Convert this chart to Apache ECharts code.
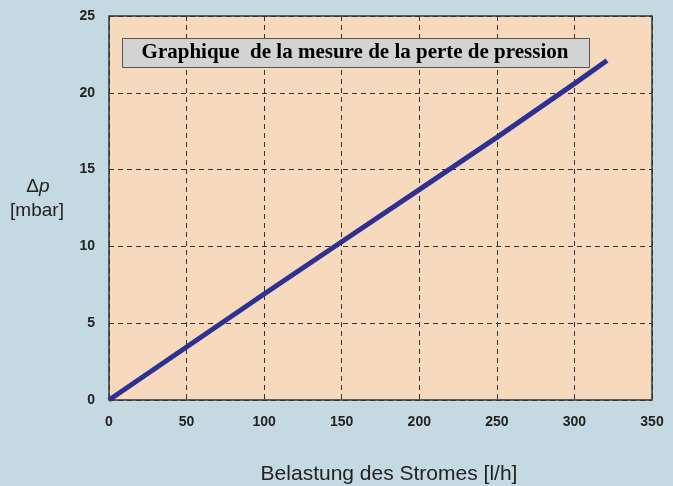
<!DOCTYPE html>
<html>
<head>
<meta charset="utf-8">
<script src="https://cdn.jsdelivr.net/npm/echarts@6/dist/echarts.min.js"></script>
<style>
html, body { margin: 0; padding: 0; background: #c5d9e2; }
</style>
</head>
<body>
<div id="main" style="width: 673px;height:486px;"></div>
<script type="text/javascript">
// Durchfluss [l/h] und Druckverlust [mbar]
var flow = [0, 50, 100, 150, 200, 250, 300, 321];
var dp = [0, 3.45, 6.9, 10.3, 13.7, 17.1, 20.6, 22.1];
var xTicks = [0, 50, 100, 150, 200, 250, 300, 350];
var yTicks = [0, 5, 10, 15, 20, 25];

var chartTitle = 'Graphique  de la mesure de la perte de pression';
var xName = 'Belastung des Stromes [l/h]';

var points = flow.map(function (f, i) { return [f, dp[i]]; });

var myChart = echarts.init(document.getElementById('main'));

var option = {
	backgroundColor: '#c5d9e2',
	animation: false,
	grid: {
		left: 109, right: 21, top: 16, bottom: 86,
		show: true,
		backgroundColor: '#f7dabd',
		borderColor: '#333',
		borderWidth: 1.5
	},
	xAxis: {
		type: 'value',
		min: xTicks[0],
		max: xTicks[xTicks.length - 1],
		interval: 50,
		axisLine: { show: false },
		axisTick: { show: false },
		axisLabel: { color: '#222', fontWeight: 'bold', fontSize: 14, margin: 15, fontFamily: 'Liberation Sans' },
		splitLine: { lineStyle: { color: '#333', type: [5, 4], width: 1 } }
	},
	yAxis: {
		type: 'value',
		min: yTicks[0],
		max: yTicks[yTicks.length - 1],
		interval: 5,
		axisLine: { show: false },
		axisTick: { show: false },
		axisLabel: { color: '#222', fontWeight: 'bold', fontSize: 14, margin: 14, fontFamily: 'Liberation Sans' },
		splitLine: { lineStyle: { color: '#333', type: [5, 4], width: 1 } }
	},
	graphic: [
		{
			type: 'rect',
			left: 122, top: 38,
			shape: { width: 467, height: 29 },
			style: { fill: '#d3d3d3', stroke: '#555', lineWidth: 1 },
			z: 10
		},
		{
			type: 'text',
			x: 355, y: 53,
			style: { text: chartTitle, align: 'center', verticalAlign: 'middle', fill: '#000', font: 'bold 21px "Liberation Serif"' },
			z: 11
		},
		{
			type: 'text',
			x: 38, y: 187,
			style: {
				text: '{d|Δ}{p|p}',
				align: 'center',
				verticalAlign: 'middle',
				rich: {
					d: { fontSize: 19, fontFamily: 'Liberation Sans', fill: '#222' },
					p: { fontSize: 19, fontFamily: 'Liberation Sans', fontStyle: 'italic', fill: '#222' }
				}
			}
		},
		{
			type: 'text',
			x: 37, y: 211,
			style: { text: '[mbar]', align: 'center', verticalAlign: 'middle', fill: '#222', font: '19px "Liberation Sans"' }
		},
		{
			type: 'text',
			x: 389, y: 474,
			style: { text: xName, align: 'center', verticalAlign: 'middle', fill: '#222', font: '21px "Liberation Sans"' }
		}
	],
	series: [{
		type: 'line',
		data: points,
		showSymbol: false,
		lineStyle: { color: '#2e3192', width: 5 },
		z: 5
	}]
};

myChart.setOption(option);
</script>
</body>
</html>
